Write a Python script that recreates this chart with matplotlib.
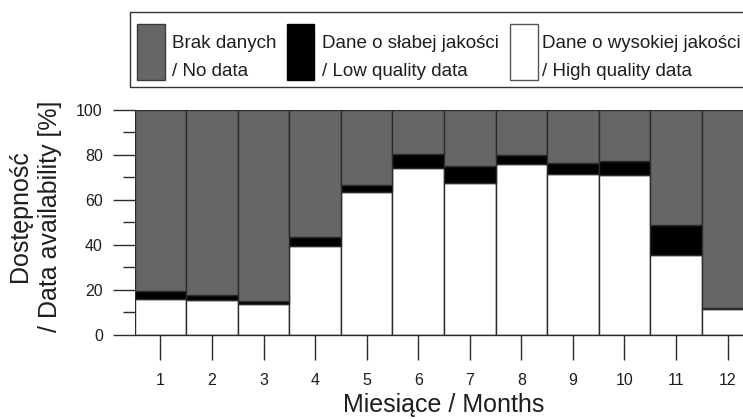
import matplotlib
matplotlib.use('Agg')
import matplotlib.pyplot as plt
import matplotlib.patches as mpatches
import numpy as np

plt.rcParams['font.family'] = ['Liberation Sans', 'DejaVu Sans']

# Dane (%)
miesiace = np.arange(1, 13)
wysoka_jakosc = np.array([16.0, 15.4, 13.8, 39.6, 63.4, 74.0, 67.5, 75.7, 71.5, 70.8, 35.6, 11.6])
slaba_jakosc = np.array([3.7, 2.2, 1.2, 3.7, 3.1, 6.4, 7.3, 4.1, 4.9, 6.4, 13.2, 0.6])
brak_danych = 100 - wysoka_jakosc - slaba_jakosc

COR_BRAK = '#666666'
COR_SLABA = '#000000'
COR_WYSOKA = '#FFFFFF'
COR_KRAWEDZ = '#2a2a2a'
COR_TEKST = '#1e1e1e'

W, H = 743, 419
fig = plt.figure(figsize=(W / 100, H / 100), dpi=100)

# Osie w pikselach: lewa krawędź 134.7, dół 335, góra 109.7, 12 słupków po 51.55 px
x0, y_dol, y_gora, szer_slupka = 134.7, 335.0, 109.7, 51.55
ax = fig.add_axes([x0 / W, (H - y_dol) / H, 12 * szer_slupka / W, (y_dol - y_gora) / H])

kw = dict(width=1.0, edgecolor=COR_KRAWEDZ, linewidth=1.0)
ax.bar(miesiace, wysoka_jakosc, color=COR_WYSOKA, **kw)
ax.bar(miesiace, slaba_jakosc, bottom=wysoka_jakosc, color=COR_SLABA, **kw)
ax.bar(miesiace, brak_danych, bottom=wysoka_jakosc + slaba_jakosc, color=COR_BRAK, **kw)

ax.set_xlim(0.5, 12.5)
ax.set_ylim(0, 100)
ax.set_xticks(miesiace)
ax.set_yticks(np.arange(0, 101, 20))
ax.set_yticks(np.arange(10, 100, 20), minor=True)

for s in ['top', 'right', 'left']:
    ax.spines[s].set_visible(False)
ax.spines['bottom'].set_color(COR_KRAWEDZ)
ax.spines['bottom'].set_linewidth(1.0)

ax.tick_params(axis='y', which='major', length=16, width=1.0, color=COR_KRAWEDZ,
               labelsize=11.5, labelcolor=COR_TEKST, pad=7)
ax.tick_params(axis='y', which='minor', length=8.5, width=1.0, color=COR_KRAWEDZ)
ax.tick_params(axis='x', which='major', length=18, width=1.0, color=COR_KRAWEDZ,
               labelsize=11.5, labelcolor=COR_TEKST, pad=9)

ax.set_xlabel('Miesiące / Months', fontsize=18, color=COR_TEKST, labelpad=4)
fig.text(35 / W, 1 - 216 / H, 'Dostępność\n/ Data availability [%]', rotation=90,
         ha='center', va='center', multialignment='center', fontsize=18,
         color=COR_TEKST, linespacing=1.3)

# Legenda rysowana ręcznie (współrzędne w pikselach)
def px(x, y):
    return x / W, 1 - y / H

ramka = mpatches.Rectangle(px(130, 86.7), (W + 5 - 130) / W, (86.7 - 12.3) / H,
                           transform=fig.transFigure, facecolor='white',
                           edgecolor='#333333', linewidth=1.0)
fig.add_artist(ramka)

pozycje = [
    (137.3, 171.7, COR_BRAK, '#3a3a3a', 'Brak danych', '/ No data'),
    (286.7, 321.7, COR_SLABA, '#000000', 'Dane o słabej jakości', '/ Low quality data'),
    (510.0, 541.7, COR_WYSOKA, '#555555', 'Dane o wysokiej jakości', '/ High quality data'),
]
for xp, xt, kolor, krawedz, linia1, linia2 in pozycje:
    fig.add_artist(mpatches.Rectangle(px(xp, 80), 27.5 / W, 56 / H,
                                      transform=fig.transFigure, facecolor=kolor,
                                      edgecolor=krawedz, linewidth=1.0))
    fig.text(*px(xt, 48.3), linia1, fontsize=13.5, color=COR_TEKST, va='baseline')
    fig.text(*px(xt, 75.7), linia2, fontsize=13.5, color=COR_TEKST, va='baseline')

fig.savefig('out.png', dpi=100)
